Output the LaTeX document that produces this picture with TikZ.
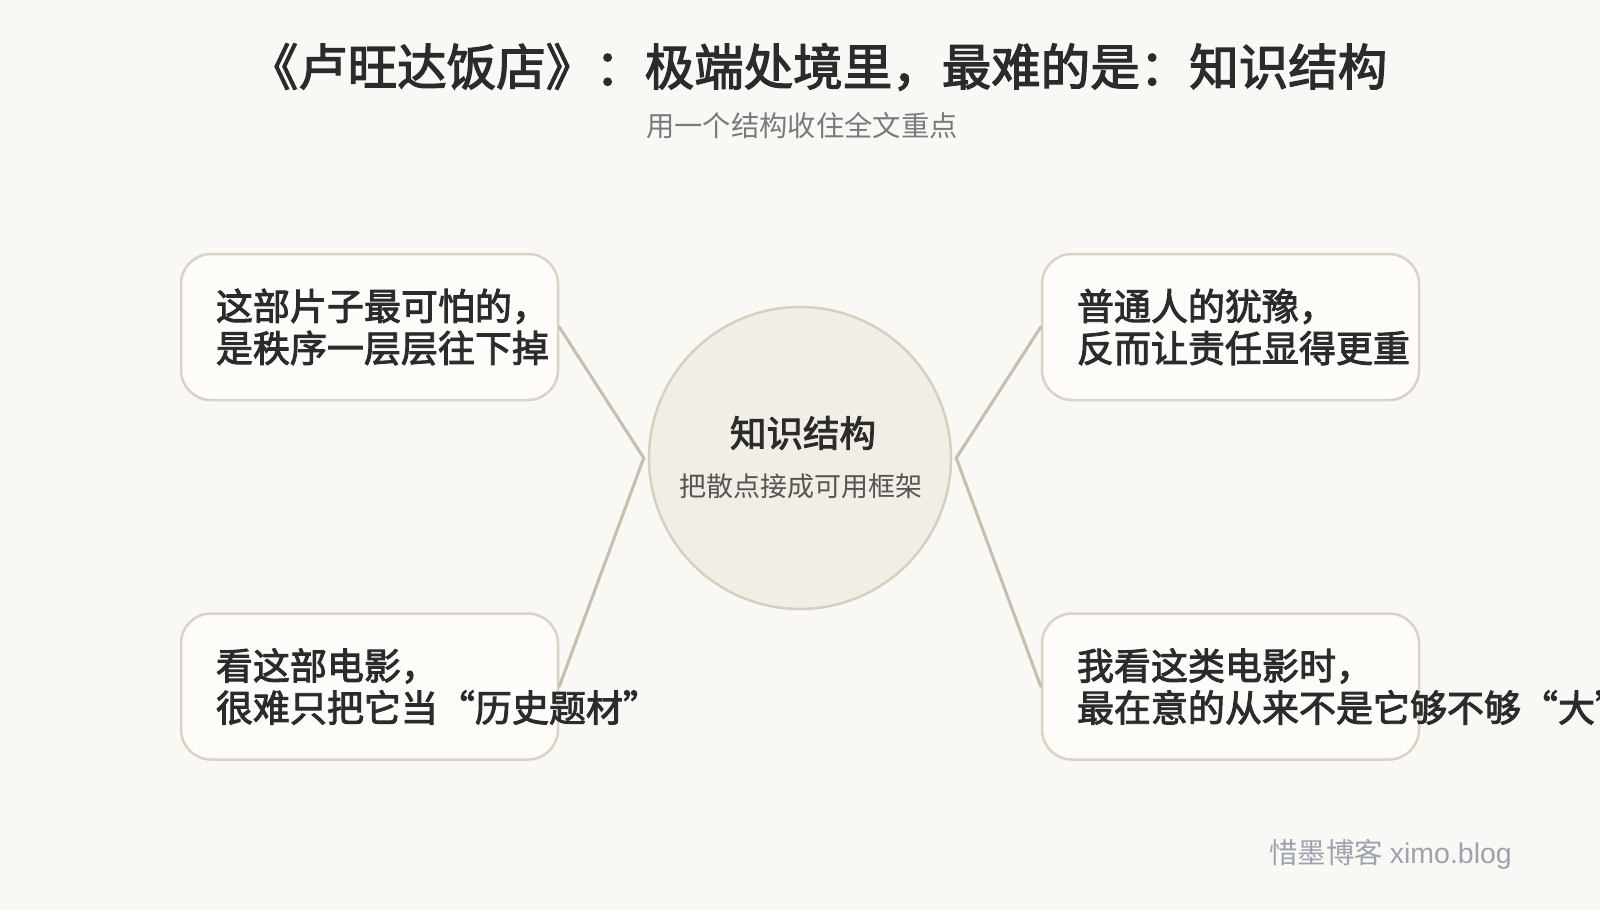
\documentclass[tikz,border=0pt]{standalone}
\usepackage{fontspec}
\setmainfont{Noto Sans CJK SC}
\newfontfamily\semib{Noto Sans CJK SC}[FakeBold=2.5]
\newfontfamily\latinmark{Liberation Sans}
\definecolor{bg}{HTML}{F9F8F5}
\definecolor{boxfill}{HTML}{FDFCF9}
\definecolor{boxline}{HTML}{DCD3C2}
\definecolor{circfill}{HTML}{F2EEE6}
\definecolor{circline}{HTML}{D9CFBF}
\definecolor{conn}{HTML}{C8BEAD}
\definecolor{ink}{HTML}{2B2B2B}
\definecolor{subink}{HTML}{7A7A7A}
\definecolor{midink}{HTML}{555555}
\definecolor{mark}{HTML}{9CA3AF}
\tikzset{
  card/.style={draw=boxline, line width=2.5pt, fill=boxfill, rounded corners=30pt,
    minimum width=377pt, minimum height=146pt, inner sep=0pt},
  cardtext/.style={anchor=west, align=left, inner sep=0pt, text=ink,
    font={\fontsize{37pt}{42pt}\selectfont\semib}},
  hub/.style={circle, draw=circline, line width=2.5pt, fill=circfill, minimum size=302pt, inner sep=0pt},
  link/.style={draw=conn, line width=3pt, line cap=round, line join=round},
}
\begin{document}
\begin{tikzpicture}[x=1pt, y=-1pt]
\fill[bg] (0,0) rectangle (1600,911);
\useasboundingbox (0,0) rectangle (1600,911);

\node[text=ink, font={\fontsize{49.5pt}{56pt}\selectfont\semib}, inner sep=0pt] (title) at (818,67) {《卢旺达饭店》：极端处境里，最难的是：知识结构};
\node[text=subink, font={\fontsize{28.3pt}{32pt}\selectfont}, inner sep=0pt] (sub) at (802,126) {用一个结构收住全文重点};

\node[hub] (c) at (800,458) {};
\node[card] (tl) at (369.5,327) {};
\node[card] (bl) at (369.5,686.5) {};
\node[card] (tr) at (1230.5,327) {};
\node[card] (br) at (1230.5,686.5) {};

\draw[link] (tl.east) -- ([xshift=-4pt]c.west) -- (bl.east);
\draw[link] (tr.west) -- ([xshift=4pt]c.east) -- (br.west);

\node[text=ink, font={\fontsize{36.5pt}{40pt}\selectfont\semib}, inner sep=0pt] (ct) at (803,433) {知识结构};
\node[text=midink, font={\fontsize{27pt}{30pt}\selectfont}, inner sep=0pt] (cs) at (801,486) {把散点接成可用框架};

\node[cardtext] (tlt) at ([xshift=36pt]tl.west) {这部片子最可怕的，\\是秩序一层层往下掉};
\node[cardtext] (blt) at ([xshift=36pt]bl.west) {看这部电影，\\很难只把它当“历史题材”};
\node[cardtext] (trt) at ([xshift=36pt]tr.west) {普通人的犹豫，\\反而让责任显得更重};
\node[cardtext] (brt) at ([xshift=36pt]br.west) {我看这类电影时，\\最在意的从来不是它够不够“大”};

\node[text=mark, font={\fontsize{28.5pt}{31pt}\selectfont}, inner sep=0pt, anchor=east] (wm) at (1512,854) {惜墨博客 {\latinmark ximo.blog}};
\end{tikzpicture}
\end{document}
